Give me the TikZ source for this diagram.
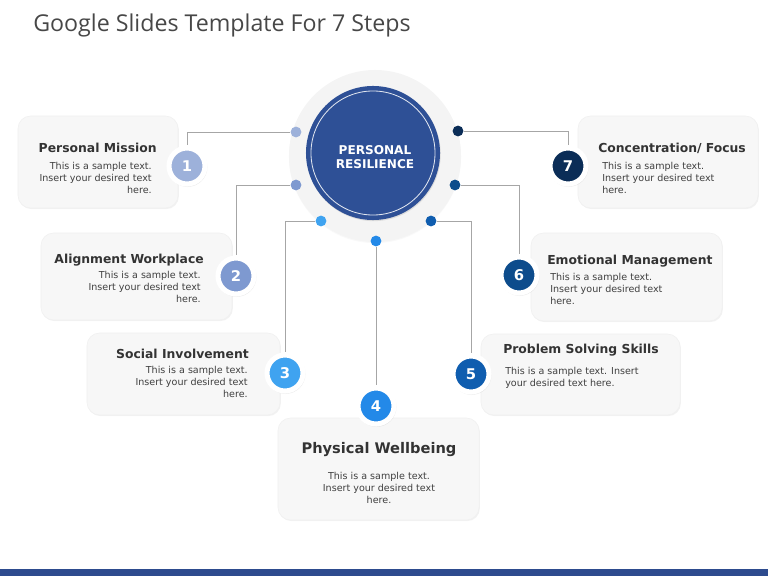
\documentclass[tikz,border=0pt]{standalone}
\usepackage{fontspec}
\setmainfont{DejaVu Sans}
\newfontfamily\headfont{Open Sans}
\usetikzlibrary{shadows, positioning, calc}
\definecolor{textdark}{HTML}{333333}
\definecolor{textbody}{HTML}{404040}
\definecolor{cardfill}{HTML}{F7F7F7}
\definecolor{halofill}{HTML}{F4F4F4}
\definecolor{linkgray}{HTML}{A6A6A6}
\definecolor{corecol}{HTML}{2E5096}
\definecolor{barcol}{HTML}{2D4B8E}
\definecolor{stepa}{HTML}{9DB1DA}
\definecolor{stepb}{HTML}{7E99D0}
\definecolor{stepc}{HTML}{3FA3F0}
\definecolor{stepd}{HTML}{2389E8}
\definecolor{stepe}{HTML}{0F5DAF}
\definecolor{stepf}{HTML}{0D4C8C}
\definecolor{stepg}{HTML}{0B2D57}

\begin{document}
\begin{tikzpicture}[
  x=0.025cm, y=-0.025cm,
  card/.style={
    draw=black!6, fill=cardfill, rounded corners=9pt, line width=0.4pt,
    drop shadow={opacity=0.10, shadow xshift=0.6pt, shadow yshift=-0.8pt}
  },
  num/.style={
    circle, draw=white, line width=3.6pt, minimum size=0.9cm, inner sep=0pt,
    text=white, font=\bfseries\fontsize{10.5}{12}\selectfont,
    circular drop shadow={opacity=0.35, shadow scale=1.12, shadow xshift=0.3pt, shadow yshift=-0.6pt}
  },
  dot/.style={circle, minimum size=0.27cm, inner sep=0pt},
  head/.style={font=\bfseries\fontsize{8.8}{10}\selectfont, text=textdark, inner sep=0pt},
  body/.style={font=\fontsize{6.8}{8.6}\selectfont, text=textbody, inner sep=0pt},
  link/.style={linkgray, line width=0.6pt}
]
\useasboundingbox (0,0) rectangle (768,576);

% ============ TITLE + BAR ============
\node[anchor=west, inner sep=0pt, text=textdark!90,
  font=\headfont\fontsize{16.5}{19}\selectfont] (title) at (33,25)
  {Google Slides Template For 7 Steps};
\fill[barcol] (0,569) rectangle (768,576);

% ============ CENTRE ============
\node[circle, fill=halofill, minimum size=4.3cm,
  drop shadow={opacity=0.05, shadow xshift=0pt, shadow yshift=-0.8pt}] (halo) at (375,156) {};

% small dots round the centre
\node[dot, fill=stepa] (d1) at (296,132) {};
\node[dot, fill=stepb] (d2) at (296,185) {};
\node[dot, fill=stepc] (d3) at (321,221) {};
\node[dot, fill=stepd] (d4) at (376,241) {};
\node[dot, fill=stepe] (d5) at (431,221) {};
\node[dot, fill=stepf] (d6) at (455,185) {};
\node[dot, fill=stepg] (d7) at (458,131) {};

% ============ CARDS ============
\node[card, minimum width=4cm, minimum height=2.3cm] (c1) at (98,162) {};
\node[card, minimum width=4.775cm, minimum height=2.175cm] (c2) at (136.5,276.5) {};
\node[card, minimum width=4.825cm, minimum height=2.05cm] (c3) at (183.5,374) {};
\node[card, minimum width=5.025cm, minimum height=2.55cm] (c4) at (378.5,469) {};
\node[card, minimum width=4.975cm, minimum height=2.025cm] (c5) at (580.5,374.5) {};
\node[card, minimum width=4.775cm, minimum height=2.2cm] (c6) at (626.5,277) {};
\node[card, minimum width=4.5cm, minimum height=2.3cm] (c7) at (668,162) {};

% number badges
\node[num, fill=stepa] (n1) at (187,166) {1};
\node[num, fill=stepb] (n2) at (236,276) {2};
\node[num, fill=stepc] (n3) at (285,373) {3};
\node[num, fill=stepd] (n4) at (376,406) {4};
\node[num, fill=stepe] (n5) at (471,374) {5};
\node[num, fill=stepf] (n6) at (519,275) {6};
\node[num, fill=stepg] (n7) at (568,166) {7};

% connectors dot -> badge
\draw[link] (d1) -| (n1);
\draw[link] (d2) -| (n2);
\draw[link] (d3) -| (n3);
\draw[link] (d4) -- (n4);
\draw[link] (d5) -| (n5);
\draw[link] (d6) -| (n6);
\draw[link] (d7) -| (n7);

% core circle drawn last
\node[circle, fill=corecol, minimum size=3.35cm, inner sep=0pt,
  drop shadow={opacity=0.2, shadow xshift=0.5pt, shadow yshift=-0.8pt}] (core) at (373,153) {};
\node[circle, draw=white!85!corecol, line width=0.6pt, minimum size=3.1cm] (ring) at (core) {};
\node[text=white, align=center, font=\bfseries\fontsize{8.6}{10.2}\selectfont] (coretxt) at (375,157)
  {PERSONAL\\RESILIENCE};

% ============ CARD TEXTS ============
% left side (right aligned)
\node[head, anchor=east] (t1) at (157,148) {Personal Mission};
\node[body, anchor=north east, align=right] (b1) at (152,161.5)
  {This is a sample text.\\Insert your desired text\\here.};
\node[head, anchor=east] (t2) at (204,260) {Alignment Workplace};
\node[body, anchor=north east, align=right] (b2) at (201,271)
  {This is a sample text.\\Insert your desired text\\here.};
\node[head, anchor=east] (t3) at (249,354) {Social Involvement};
\node[body, anchor=north east, align=right] (b3) at (248,366)
  {This is a sample text.\\Insert your desired text\\here.};

% bottom (centred)
\node[head, font=\bfseries\fontsize{10.4}{12}\selectfont] (t4) at (379,450) {Physical Wellbeing};
\node[body, anchor=north, align=center] (b4) at (379,472)
  {This is a sample text.\\Insert your desired text\\here.};

% right side (left aligned)
\node[head, anchor=west] (t5) at (503,350) {Problem Solving Skills};
\node[body, anchor=north west, align=left] (b5) at (505,367)
  {This is a sample text. Insert\\your desired text here.};
\node[head, anchor=west] (t6) at (547,261) {Emotional Management};
\node[body, anchor=north west, align=left] (b6) at (550,273)
  {This is a sample text.\\Insert your desired text\\here.};
\node[head, anchor=west] (t7) at (598,148) {Concentration/ Focus};
\node[body, anchor=north west, align=left] (b7) at (602,162)
  {This is a sample text.\\Insert your desired text\\here.};

\end{tikzpicture}
\end{document}
